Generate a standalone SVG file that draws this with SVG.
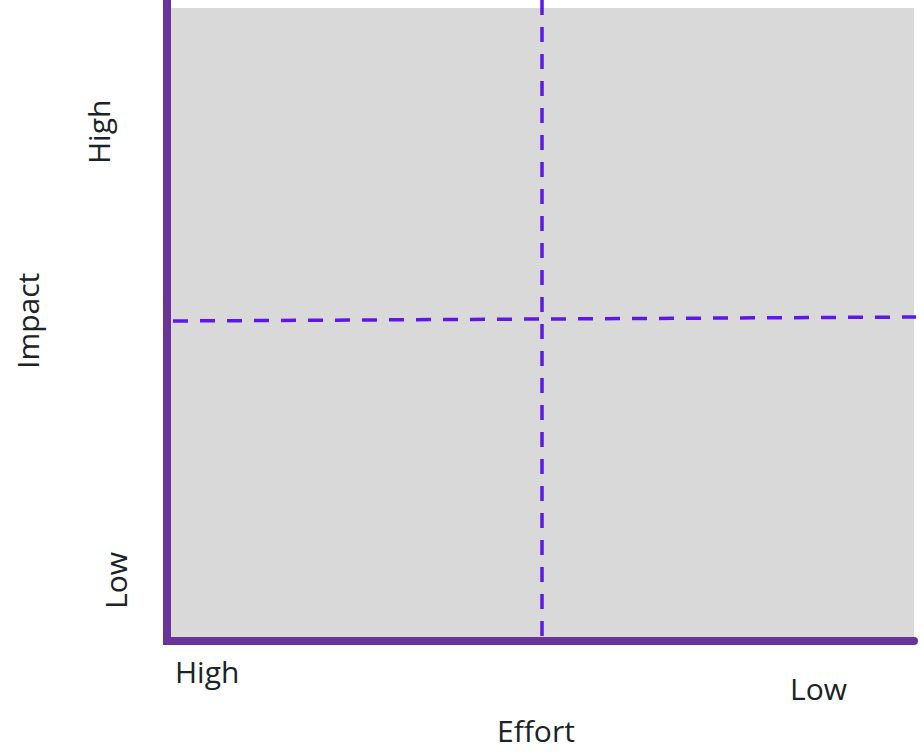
<svg xmlns="http://www.w3.org/2000/svg" width="924" height="756" viewBox="0 0 924 756">
<style>
.lbl{font-family:"Open Sans","Liberation Sans",sans-serif;font-size:30px;fill:#1a2424}
.axis{stroke:#6a3399;stroke-width:8;fill:none;stroke-linecap:round}
.dash{stroke:#5f17e8;stroke-width:3.5;fill:none;stroke-dasharray:15 12}
</style>
<rect width="924" height="756" fill="#ffffff"/>
<g id="plot">
<rect x="171" y="8" width="743" height="633" fill="#d9d9d9"/>
</g>
<g id="connectors">
<line class="dash" x1="542" y1="0" x2="542" y2="640"/>
<line class="dash" x1="173" y1="321" x2="916" y2="317"/>
<path class="axis" d="M167,-4 L167,641 L914,641"/>
</g>
<g id="labels">
<text class="lbl" x="175" y="683">High</text>
<text class="lbl" x="790" y="700">Low</text>
<text class="lbl" x="497" y="742">Effort</text>
<text class="lbl" transform="translate(110,164) rotate(-90)">High</text>
<text class="lbl" transform="translate(39,369) rotate(-90)">Impact</text>
<text class="lbl" transform="translate(127,609) rotate(-90)">Low</text>
</g>
</svg>
